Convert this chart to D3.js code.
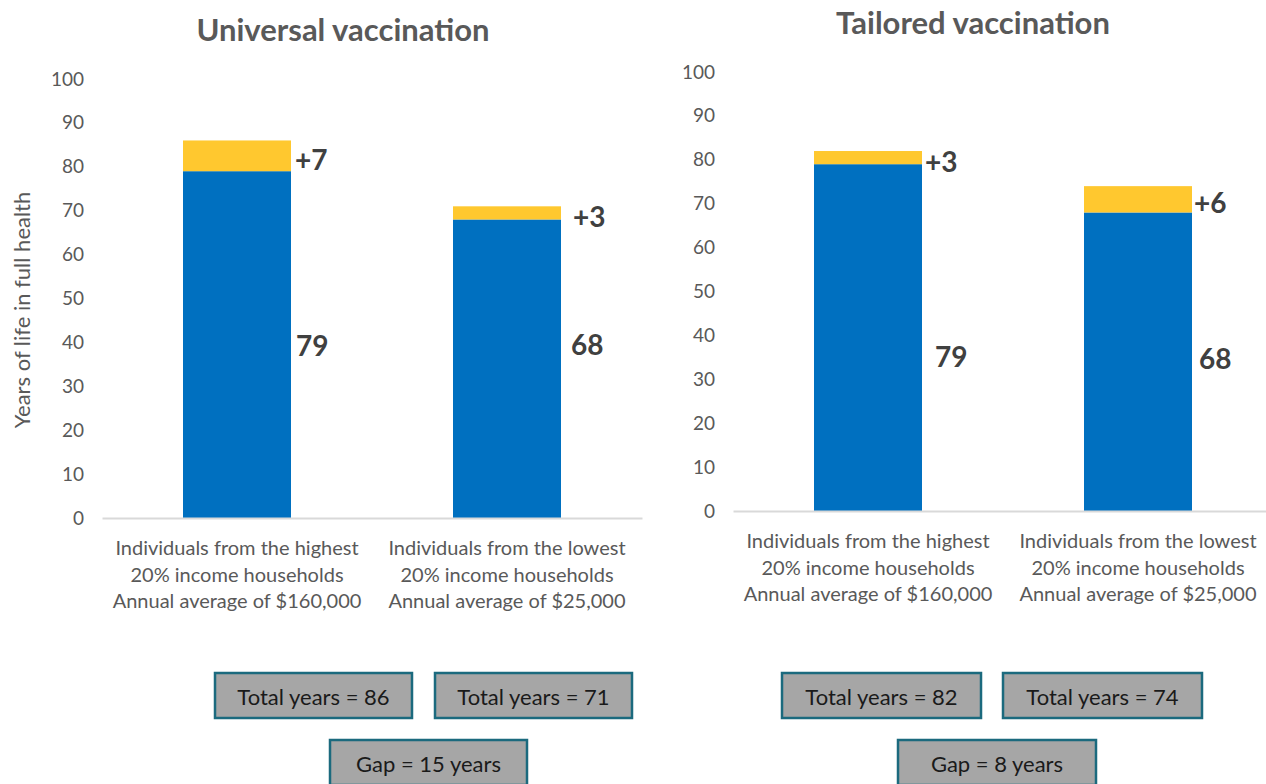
<!DOCTYPE html>
<html>
<head>
<meta charset="utf-8">
<script src="https://cdn.jsdelivr.net/npm/d3@7/dist/d3.min.js"></script>
<style>
  html, body { margin: 0; padding: 0; background: #fff; }
  svg { display: block; font-family: Lato, "Open Sans", sans-serif; }
</style>
</head>
<body>
<svg id="chart" width="1266" height="784"></svg>
<script>
// ---------- data ----------
const categories = [
  ["Individuals from the highest", "20% income households", "Annual average of $160,000"],
  ["Individuals from the lowest", "20% income households", "Annual average of $25,000"]
];
const panelTitles = ["Universal vaccination", "Tailored vaccination"];
const baseYears = [79, 68];
const universalGain = [7, 3];
const tailoredGain = [3, 6];
const yTicks = [0, 10, 20, 30, 40, 50, 60, 70, 80, 90, 100];
const yAxisTitle = "Years of life in full health";

// ---------- layout ----------
const BLUE = "#0070C0", GOLD = "#FFC82F", TXT = "#595959", DARK = "#404040";
const panels = [
  { title: panelTitles[0], gain: universalGain, x0: 102, x1: 642, yb: 518, yt: 79,
    titleX: 343, titleY: 29, catY: 547,
    gainDx: [4, 12], baseDx: [5, 10], baseDy: [0, -25],
    boxes: [[215, 673, 197], [435, 673, 197]], gapBox: [330, 740, 197] },
  { title: panelTitles[1], gain: tailoredGain, x0: 733, x1: 1273, yb: 511, yt: 72,
    titleX: 973, titleY: 22, catY: 540,
    gainDx: [3, 2], baseDx: [13, 7], baseDy: [18, -4],
    boxes: [[782, 673, 199], [1003, 673, 199]], gapBox: [898, 740, 198] }
];

const svg = d3.select("#chart");

panels.forEach((p, pi) => {
  const g = svg.append("g");
  const x = d3.scaleBand().domain(d3.range(categories.length)).range([p.x0, p.x1]).paddingInner(0.6).paddingOuter(0.3);
  const y = d3.scaleLinear().domain([0, 100]).range([p.yb, p.yt]);

  // title
  g.append("text").attr("x", p.titleX).attr("y", p.titleY)
    .attr("text-anchor", "middle").attr("dominant-baseline", "central")
    .style("font-size", "31px").style("font-weight", "bold").style("fill", TXT)
    .text(p.title);

  // y axis
  const ya = g.append("g").attr("transform", `translate(${p.x0},0)`)
    .call(d3.axisLeft(y).tickValues(yTicks).tickSize(0).tickPadding(18));
  ya.select(".domain").remove();
  ya.selectAll("text").style("font-size", "19px").style("fill", TXT).style("font-family", "Lato, sans-serif");

  // bars
  const stacks = categories.map((c, i) => ({ i, base: baseYears[i], gain: p.gain[i] }));
  g.selectAll("rect.base").data(stacks).enter().append("rect")
    .attr("x", d => x(d.i)).attr("width", x.bandwidth())
    .attr("y", d => y(d.base)).attr("height", d => y(0) - y(d.base))
    .attr("fill", BLUE);
  g.selectAll("rect.gain").data(stacks).enter().append("rect")
    .attr("x", d => x(d.i)).attr("width", x.bandwidth())
    .attr("y", d => y(d.base + d.gain)).attr("height", d => y(d.base) - y(d.base + d.gain))
    .attr("fill", GOLD);

  // baseline / x axis
  const xa = g.append("g").attr("transform", `translate(0,${p.yb})`)
    .call(d3.axisBottom(x).tickSize(0).tickFormat(""));
  xa.select(".domain").attr("stroke", "#D9D9D9").attr("stroke-width", 2);
  xa.selectAll(".tick text").remove();

  // category labels
  stacks.forEach(d => {
    const t = g.append("text").attr("text-anchor", "middle")
      .style("font-size", "20px").style("fill", TXT);
    categories[d.i].forEach((line, li) => {
      t.append("tspan").attr("x", x(d.i) + x.bandwidth() / 2)
        .attr("y", p.catY + li * 26.5).attr("dominant-baseline", "central").text(line);
    });
  });

  // value labels
  g.selectAll("text.gainlab").data(stacks).enter().append("text")
    .attr("x", d => x(d.i) + x.bandwidth() + p.gainDx[d.i])
    .attr("y", d => y(d.base + d.gain / 2) + 3)
    .attr("dominant-baseline", "central")
    .style("font-size", "28px").style("font-weight", "bold").style("fill", DARK)
    .text(d => "+" + d.gain);
  g.selectAll("text.baselab").data(stacks).enter().append("text")
    .attr("x", d => x(d.i) + x.bandwidth() + p.baseDx[d.i])
    .attr("y", d => y(d.base / 2) + p.baseDy[d.i])
    .attr("dominant-baseline", "central")
    .style("font-size", "28px").style("font-weight", "bold").style("fill", DARK)
    .text(d => d.base);

  // summary boxes
  const totals = stacks.map(d => d.base + d.gain);
  const drawBox = (bx, by, bw, label) => {
    g.append("rect").attr("x", bx).attr("y", by).attr("width", bw).attr("height", 45)
      .attr("fill", "#A6A6A6").attr("stroke", "#1B6A7E").attr("stroke-width", 2.5);
    g.append("text").attr("x", bx + bw / 2).attr("y", by + 23)
      .attr("text-anchor", "middle").attr("dominant-baseline", "central")
      .style("font-size", "22px").style("fill", "#1a1a1a").text(label);
  };
  totals.forEach((t, i) => drawBox(p.boxes[i][0], p.boxes[i][1], p.boxes[i][2], "Total years = " + t));
  drawBox(p.gapBox[0], p.gapBox[1], p.gapBox[2], "Gap = " + (totals[0] - totals[1]) + " years");

  // y axis title (left panel only)
  if (pi === 0) {
    svg.append("text").attr("transform", "translate(21,310) rotate(-90)")
      .attr("text-anchor", "middle").attr("dominant-baseline", "central")
      .style("font-size", "22px").style("fill", TXT).text(yAxisTitle);
  }
});
</script>
</body>
</html>
